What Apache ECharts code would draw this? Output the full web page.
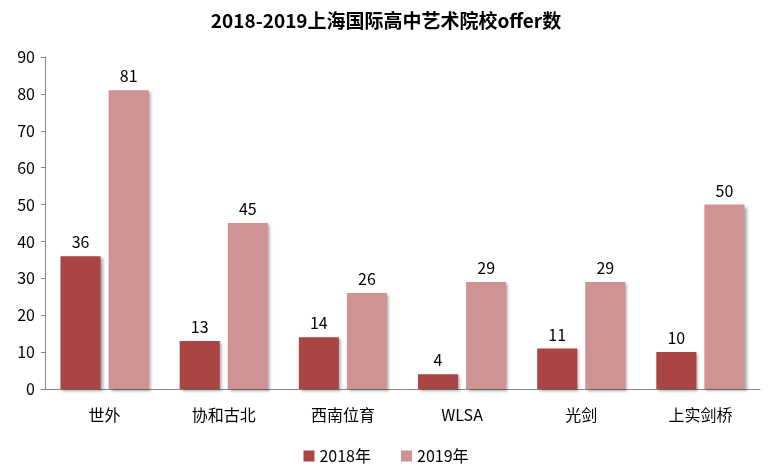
<!DOCTYPE html>
<html><head><meta charset="utf-8">
<script src="https://cdn.jsdelivr.net/npm/echarts@6/dist/echarts.min.js"></script>
<style>html,body{margin:0;padding:0;background:#fff}#c{width:772px;height:473px}</style>
</head><body><div id="c"></div>
<script>
const categories = ['世外','协和古北','西南位育','WLSA','光剑','上实剑桥'];
const s2018 = [36,13,14,4,11,10];
const s2019 = [81,45,26,29,29,50];
const seriesNames = ['2018年','2019年'];
const font = '"Noto Sans CJK SC", Calibri, "Liberation Sans", sans-serif';
const chart = echarts.init(document.getElementById('c'));
const lbl = {show:true,position:'top',color:'#000',fontSize:16,fontFamily:font,distance:6};
const shadow = {shadowColor:'rgba(0,0,0,0.35)',shadowBlur:3,shadowOffsetX:2,shadowOffsetY:2};
chart.setOption({
  animation:false,
  title:{text:'2018-2019上海国际高中艺术院校offer数',left:'center',top:6,textStyle:{fontSize:19,fontWeight:'bold',color:'#000',fontFamily:font}},
  legend:{bottom:4,left:'center',itemWidth:11,itemHeight:11,itemGap:30,icon:'rect',textStyle:{fontSize:16,color:'#000',fontFamily:font},data:seriesNames},
  grid:{left:45,right:12,top:57,bottom:84},
  xAxis:{type:'category',data:categories,axisTick:{show:false},axisLine:{lineStyle:{color:'#888'}},
    axisLabel:{color:'#000',fontSize:16,fontFamily:font,margin:18}},
  yAxis:{type:'value',min:0,max:90,interval:10,splitLine:{show:false},
    axisLine:{show:true,lineStyle:{color:'#888'}},axisTick:{show:true,length:4,lineStyle:{color:'#888'}},
    axisLabel:{color:'#000',fontSize:16,fontFamily:font,margin:10}},
  series:[
    {name:seriesNames[0],type:'bar',data:s2018,barGap:'20%',barCategoryGap:'26%',itemStyle:Object.assign({color:'#a94543'},shadow),label:lbl},
    {name:seriesNames[1],type:'bar',data:s2019,itemStyle:Object.assign({color:'#d09393'},shadow),label:lbl}
  ]
});
</script></body></html>
